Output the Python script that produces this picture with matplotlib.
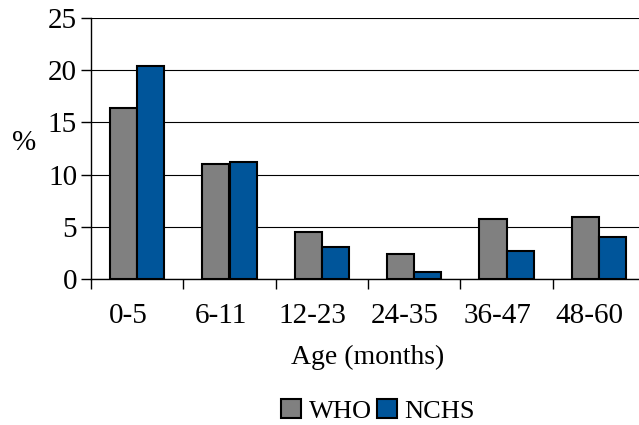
import matplotlib.pyplot as plt
import matplotlib.transforms as mtransforms
import numpy as np

plt.rcParams['font.family'] = ['Liberation Serif', 'DejaVu Serif']

ages = ["0-5", "6-11", "12-23", "24-35", "36-47", "48-60"]
who = [16.4, 11.0, 4.5, 2.4, 5.7, 5.9]
nchs = [20.4, 11.2, 3.1, 0.7, 2.7, 4.0]

GRAY = '#808080'
BLUE = '#00559A'

fig = plt.figure(figsize=(6.39, 4.25), dpi=100)
# axes runs slightly past the right edge of the figure, as in the original
ax = fig.add_axes([91 / 639, 1 - 279 / 425, 554 / 639, 261 / 425])

x = np.arange(len(ages))
w = 0.295
ax.bar(x - w / 2, who, w, color=GRAY, edgecolor='black', linewidth=1.5, label='WHO', zorder=3)
ax.bar(x + w / 2, nchs, w, color=BLUE, edgecolor='black', linewidth=1.5, label='NCHS', zorder=3)

ax.set_xlim(-0.5, len(ages) - 0.5)
ax.set_ylim(0, 25)
ax.set_yticks(range(0, 26, 5))
ax.tick_params(axis='y', labelsize=21, length=7, width=1, direction='out', pad=3)
ax.yaxis.grid(True, color='black', linewidth=0.8, zorder=0)

# category labels in the middle, tick marks between categories
ax.set_xticks(x)
ax.set_xticklabels(ages)
ax.set_xticks(np.arange(-0.5, len(ages), 1), minor=True)
ax.tick_params(axis='x', which='major', length=0, labelsize=21, pad=17)
ax.tick_params(axis='x', which='minor', length=7, width=1, direction='out')

# labels sit a little left of the category centre in the original
shift = mtransforms.ScaledTranslation(-0.09, 0, fig.dpi_scale_trans)
for lbl in ax.get_xticklabels():
    lbl.set_transform(lbl.get_transform() + shift)

for side in ['top', 'right']:
    ax.spines[side].set_visible(False)
ax.spines['left'].set_linewidth(1)
ax.spines['bottom'].set_linewidth(1)

ax.set_xlabel('Age (months)', fontsize=20, labelpad=12)
ax.set_ylabel('%', fontsize=21, rotation=0)
ax.yaxis.set_label_coords(-0.12, 0.47)

fig.legend(loc='center', bbox_to_anchor=(378 / 639, 1 - 411 / 425), ncol=2,
           frameon=False, fontsize=19, handlelength=0.75, handleheight=0.75,
           handletextpad=0.3, columnspacing=0.2, borderpad=0)

plt.savefig('out.png', dpi=100)
plt.close()
